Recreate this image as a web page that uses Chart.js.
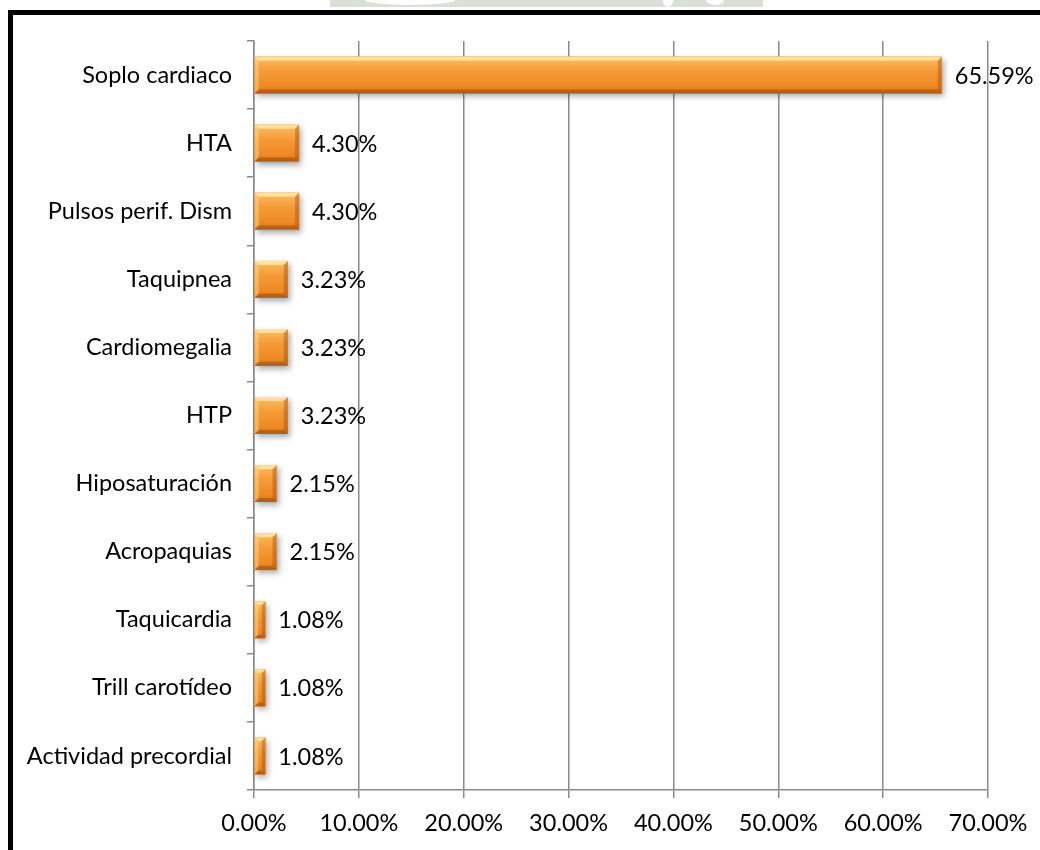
<!DOCTYPE html>
<html lang="es">
<head>
<meta charset="utf-8">
<title>Signos cardiovasculares</title>
<script src="https://cdn.jsdelivr.net/npm/chart.js@4.4.1/dist/chart.umd.min.js"></script>
<style>
  html, body { margin: 0; padding: 0; background: #fff; overflow: hidden; }
  #wrap { position: relative; width: 1040px; height: 850px; }
  #chart { position: absolute; left: 0; top: 0; }
  .frame {
    position: absolute; left: 8px; top: 10px; width: 1100px; height: 900px;
    border-left: 5px solid #000; border-top: 5px solid #000;
    pointer-events: none;
  }
</style>
</head>
<body>
<div id="wrap">
  <canvas id="chart" width="1040" height="850"></canvas>
  <div class="frame"></div>
</div>
<script>
const signos = [
  "Soplo cardiaco",
  "HTA",
  "Pulsos perif. Dism",
  "Taquipnea",
  "Cardiomegalia",
  "HTP",
  "Hiposaturación",
  "Acropaquias",
  "Taquicardia",
  "Trill carotídeo",
  "Actividad precordial",
];
const porcentajes = [65.59, 4.30, 4.30, 3.23, 3.23, 3.23, 2.15, 2.15, 1.08, 1.08, 1.08];
const ejeX = { min: 0, max: 70, paso: 10 };

const fuente = { family: "Lato, 'Open Sans', sans-serif", size: 23.5 };
const gris = "#8a8a8a";

function formato(v) {
  return Number(v).toFixed(2) + "%";
}

// faint logo band peeking above the frame
const marcaAgua = {
  id: "marcaAgua",
  beforeDraw(chart) {
    const c = chart.ctx;
    c.save();
    c.fillStyle = "#dbe0d7";
    c.fillRect(330, 0, 433, 7);
    c.fillStyle = "#ffffff";
    c.beginPath();
    c.ellipse(410, 0, 45, 5, 0, 0, Math.PI * 2);
    c.fill();
    c.beginPath();
    c.ellipse(668, 0, 5, 7, 0, 0, Math.PI * 2);
    c.fill();
    c.beginPath();
    c.ellipse(715, 0, 9, 5, 0, 0, Math.PI * 2);
    c.fill();
    c.restore();
  },
};

function barras(chart) {
  return chart.getDatasetMeta(0).data.map((el) =>
    el.getProps(["x", "y", "base", "height"], true)
  );
}

// shadow under each bar, then bevelled orange face on top
const bisel = {
  id: "bisel",
  beforeDatasetsDraw(chart) {
    const c = chart.ctx;
    c.save();
    c.shadowColor = "rgba(0,0,0,0.35)";
    c.shadowBlur = 6;
    c.shadowOffsetX = 2;
    c.shadowOffsetY = 3;
    c.fillStyle = "#d9801f";
    barras(chart).forEach((b) => {
      c.fillRect(b.base, b.y - b.height / 2, b.x - b.base, b.height);
    });
    c.restore();
  },
  afterDatasetsDraw(chart) {
    const c = chart.ctx;
    barras(chart).forEach((b) => {
      const x0 = b.base, x1 = b.x;
      const y0 = b.y - b.height / 2, y1 = b.y + b.height / 2;
      const w = x1 - x0, h = y1 - y0;
      const e = Math.min(4, w / 3);
      const g = c.createLinearGradient(0, y0, 0, y1);
      g.addColorStop(0, "#fbd58e");
      g.addColorStop(0.12, "#f9b458");
      g.addColorStop(0.4, "#f59a36");
      g.addColorStop(0.8, "#ef8a25");
      g.addColorStop(1, "#d8741b");
      c.save();
      c.fillStyle = g;
      c.fillRect(x0, y0, w, h);
      // top highlight bevel
      c.fillStyle = "rgba(255,236,170,0.7)";
      c.beginPath();
      c.moveTo(x0, y0);
      c.lineTo(x1, y0);
      c.lineTo(x1 - e, y0 + e);
      c.lineTo(x0 + e, y0 + e);
      c.closePath();
      c.fill();
      // left bevel
      c.fillStyle = "rgba(255,220,140,0.5)";
      c.beginPath();
      c.moveTo(x0, y0);
      c.lineTo(x0 + e, y0 + e);
      c.lineTo(x0 + e, y1 - e);
      c.lineTo(x0, y1);
      c.closePath();
      c.fill();
      // right bevel
      c.fillStyle = "rgba(170,80,10,0.45)";
      c.beginPath();
      c.moveTo(x1, y0);
      c.lineTo(x1, y1);
      c.lineTo(x1 - e, y1 - e);
      c.lineTo(x1 - e, y0 + e);
      c.closePath();
      c.fill();
      // bottom bevel
      c.fillStyle = "rgba(150,70,10,0.5)";
      c.beginPath();
      c.moveTo(x0, y1);
      c.lineTo(x1, y1);
      c.lineTo(x1 - e, y1 - e);
      c.lineTo(x0 + e, y1 - e);
      c.closePath();
      c.fill();
      c.restore();
    });
  },
};

// value labels to the right of each bar
const etiquetas = {
  id: "etiquetas",
  afterDatasetsDraw(chart) {
    const c = chart.ctx;
    c.save();
    c.font = fuente.size + "px " + fuente.family;
    c.fillStyle = "#000";
    c.textAlign = "left";
    c.textBaseline = "middle";
    barras(chart).forEach((b, i) => {
      c.fillText(formato(porcentajes[i]), b.x + 13, b.y + 1);
    });
    c.restore();
  },
};

const ctx = document.getElementById("chart");

const chart = new Chart(ctx, {
  type: "bar",
  data: {
    labels: signos,
    datasets: [
      {
        data: porcentajes,
        backgroundColor: "#f39130",
        borderWidth: 0,
        categoryPercentage: 1,
        barPercentage: 0.54,
      },
    ],
  },
  options: {
    indexAxis: "y",
    responsive: false,
    animation: false,
    devicePixelRatio: 1,
    layout: {
      padding: { left: 10, top: 41, right: 52, bottom: 0 },
    },
    scales: {
      x: {
        min: ejeX.min,
        max: ejeX.max,
        afterFit: (scale) => {
          scale.height = 60;
        },
        ticks: {
          stepSize: ejeX.paso,
          padding: 11,
          color: "#000",
          font: fuente,
          maxRotation: 0,
          callback: (v) => formato(v),
        },
        grid: {
          color: gris,
          lineWidth: 1.5,
          tickLength: 8,
        },
        border: { color: gris, width: 1.5 },
      },
      y: {
        afterFit: (scale) => {
          scale.width = 244;
        },
        ticks: {
          padding: 15,
          color: "#000",
          font: fuente,
        },
        grid: {
          drawOnChartArea: false,
          color: gris,
          lineWidth: 1.5,
          tickLength: 7,
        },
        border: { color: gris, width: 1.5 },
      },
    },
    plugins: {
      legend: { display: false },
      tooltip: { enabled: false },
    },
  },
  plugins: [marcaAgua, bisel, etiquetas],
});
</script>
</body>
</html>
